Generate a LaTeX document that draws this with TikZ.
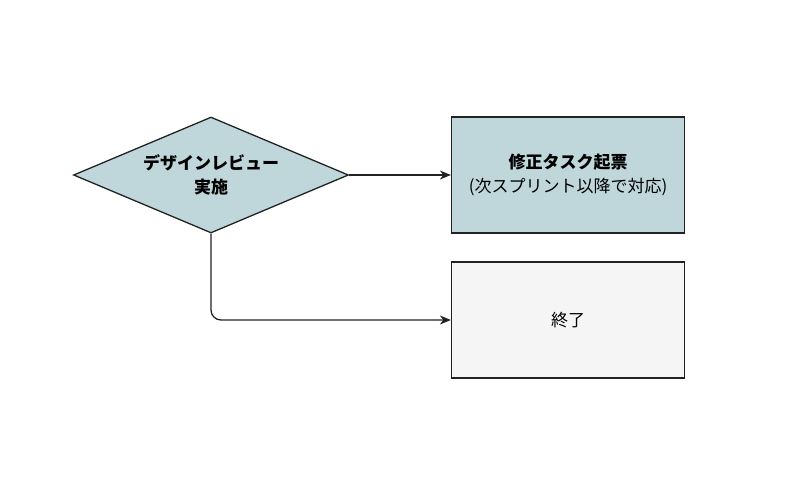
\documentclass[tikz,border=0pt]{standalone}
\usepackage{fontspec}
\setmainfont{Noto Sans CJK JP}
\usetikzlibrary{shapes.geometric,arrows.meta}
\definecolor{tealfill}{HTML}{BFD7DB}
\definecolor{greyfill}{HTML}{F5F5F5}
\definecolor{strokec}{HTML}{222222}
\tikzset{
  box/.style={draw=strokec, line width=1.3pt, minimum width=233pt, minimum height=116pt, inner sep=0pt, align=center, font=\fontsize{17}{24}\selectfont},
  dec/.style={draw=strokec, line width=1.3pt, diamond, aspect=2.38, minimum width=275pt, minimum height=116pt, inner sep=0pt, fill=tealfill, align=center, font=\fontsize{17}{24}\selectfont\bfseries},
  conn/.style={draw=strokec, line width=1.3pt, -{Stealth[length=11pt,width=9pt]}, rounded corners=10pt}
}
\begin{document}
\begin{tikzpicture}[x=1pt,y=-1pt]
\useasboundingbox (0,0) rectangle (800,480);
\node[dec] (d) at (211,175) {デザインレビュー\\実施};
\node[box, fill=tealfill] (t) at (568,175) {\textbf{修正タスク起票}\\(次スプリント以降で対応)};
\node[box, fill=greyfill] (e) at (568,320) {終了};
\draw[conn] (d.east) -- (t.west);
\draw[conn] (d.south) |- (e.west);
\end{tikzpicture}
\end{document}
